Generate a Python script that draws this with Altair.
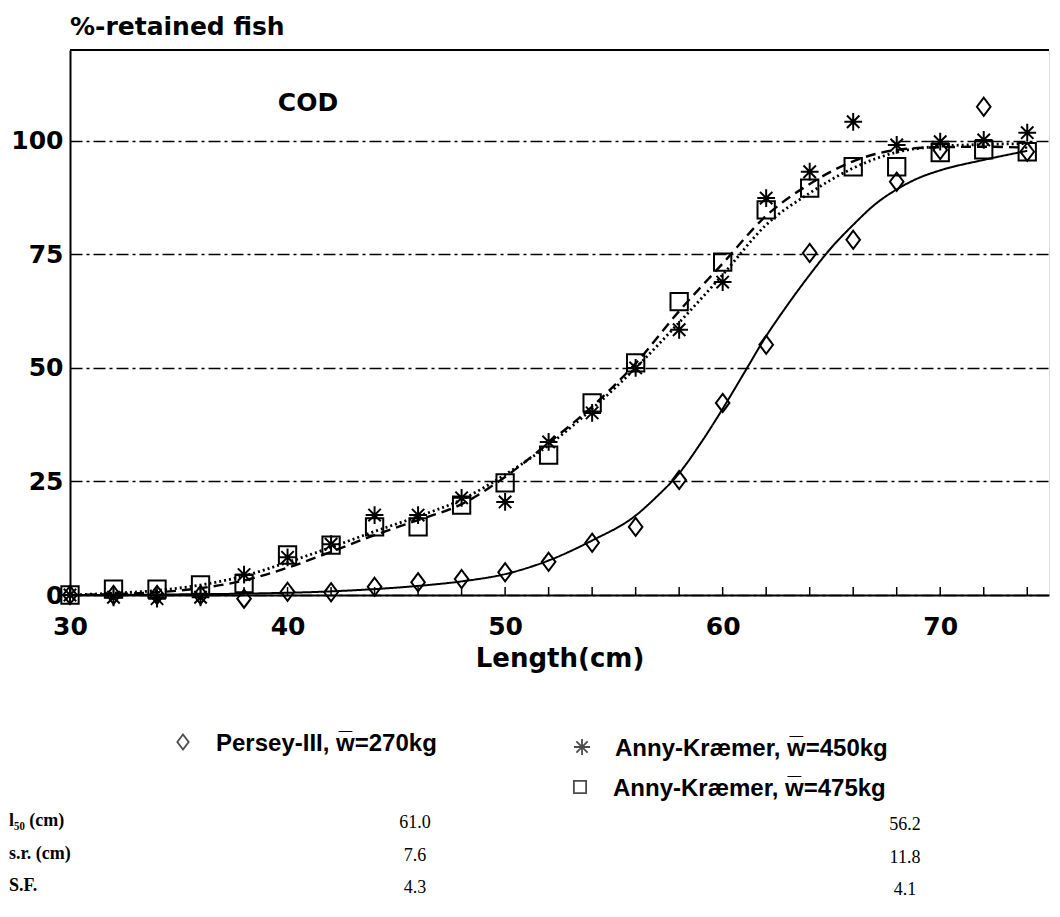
import altair as alt
import pandas as pd

# ---------------- data ----------------
lengths = [30, 32, 34, 36, 38, 40, 42, 44, 46, 48, 50, 52, 54, 56, 58, 60, 62, 64, 66, 68, 70, 72, 74]
persey_pct = [0, 0, 0, 0, -0.8, 0.7, 0.6, 1.8, 2.8, 3.5, 5.0, 7.3, 11.5, 15.0, 25.3, 42.3, 55.1, 75.3, 78.2, 91.0, 98.0, 107.5, 97.6]
anny450_pct = [0, -0.5, -0.8, -0.5, 4.5, 8.3, 11.2, 17.6, 17.6, 21.4, 20.5, 33.7, 40.1, 50.0, 58.4, 68.9, 87.4, 93.2, 104.2, 99.1, 99.8, 100.2, 101.8]
anny475_pct = [0, 1.3, 1.3, 2.2, 2.5, 8.8, 11.0, 15.0, 15.0, 19.8, 24.7, 30.8, 42.3, 51.1, 64.6, 73.3, 84.8, 89.6, 94.3, 94.3, 97.4, 98.0, 97.6]

persey_fit_len = [30, 34, 38, 42, 44, 46, 48, 50, 52, 54, 56, 57, 58, 59, 60, 61, 62, 63, 64, 65, 66, 67, 68, 69, 70, 72, 74]
persey_fit_pct = [0, 0.1, 0.3, 0.8, 1.3, 2.0, 3.0, 4.6, 7.6, 12.0, 17.5, 21.8, 26.8, 33.5, 41.0, 49.0, 57.0, 64.0, 70.5, 76.5, 81.5, 86.0, 89.3, 91.8, 93.5, 95.8, 97.8]
anny_fit_len = [30, 32, 34, 36, 38, 40, 42, 44, 46, 48, 50, 52, 54, 56, 58, 60, 62, 64, 66, 68, 70, 72, 74]
anny_dash_pct = [0, 0.2, 0.6, 1.5, 3.2, 6.0, 9.5, 13.2, 16.5, 20.0, 26.0, 33.5, 41.5, 51.0, 62.5, 73.0, 83.5, 90.5, 95.5, 98.0, 98.6, 98.7, 98.5]
anny_dot_pct = [0, 0.4, 1.0, 2.2, 4.2, 7.2, 10.5, 14.0, 17.3, 21.0, 26.5, 33.0, 41.0, 50.0, 60.0, 70.5, 81.5, 88.5, 94.0, 97.5, 98.8, 99.2, 99.4]

x_tick_values = list(range(30, 75, 2))
x_label_values = [30, 40, 50, 60, 70]
y_label_values = [0, 25, 50, 75, 100]

series_names = ["Persey-III, w\u0305=270kg", "Anny-Kr\u00e6mer, w\u0305=450kg", "Anny-Kr\u00e6mer, w\u0305=475kg"]
curve_names = ["Persey fit", "Anny fit (dashed)", "Anny fit (dotted)"]
stat_rows = ["l\u2085\u2080 (cm)", "s.r. (cm)", "S.F."]
persey_stats = ["61.0", "7.6", "4.3"]
anny_stats = ["56.2", "11.8", "4.1"]
species_label = ["COD"]
y_title = "%-retained fish"

# ---------------- tables ----------------
pts = pd.concat([
    pd.DataFrame({"length": lengths, "pct": persey_pct, "series": series_names[0]}),
    pd.DataFrame({"length": lengths, "pct": anny450_pct, "series": series_names[1]}),
    pd.DataFrame({"length": lengths, "pct": anny475_pct, "series": series_names[2]}),
])
curves = pd.concat([
    pd.DataFrame({"length": persey_fit_len, "pct": persey_fit_pct, "curve": curve_names[0]}),
    pd.DataFrame({"length": anny_fit_len, "pct": anny_dash_pct, "curve": curve_names[1]}),
    pd.DataFrame({"length": anny_fit_len, "pct": anny_dot_pct, "curve": curve_names[2]}),
])

W, H = 979, 545
SANS = "DejaVu Sans"
LEG = "Liberation Sans"
SERIF = "Liberation Serif"

DIAMOND = "M0,-1L0.75,0L0,1L-0.75,0Z"
ASTER = "M0,-1L0,1M-1,0L1,0M-0.7,-0.7L0.7,0.7M-0.7,0.7L0.7,-0.7"
shapes = [DIAMOND, ASTER, "square"]
sizes = [330, 300, 185]

xscale = alt.Scale(domain=[30, 75], nice=False, zero=False)
yscale = alt.Scale(domain=[0, 120], nice=False)

xaxis = alt.Axis(values=x_label_values, grid=False, ticks=False, labelFont=SANS, labelFontWeight="bold",
                 labelFontSize=25, labelColor="black", labelPadding=19, labelFlush=False,
                 domainColor="black", domainWidth=2,
                 title="Length(cm)", titleFont=SANS, titleFontWeight="bold", titleFontSize=26,
                 titleColor="black", titlePadding=6)
yaxis = alt.Axis(values=y_label_values, grid=True, gridColor="black", gridWidth=1.3, gridDash=[12, 4, 3, 4],
                 ticks=False, labelFont=SANS, labelFontWeight="bold", labelFontSize=25, labelColor="black",
                 labelPadding=7, labelFlush=False, domainColor="black", domainWidth=2, title=None)

lines = alt.Chart(curves).mark_line(interpolate="monotone", color="black").encode(
    x=alt.X("length:Q", scale=xscale, axis=xaxis),
    y=alt.Y("pct:Q", scale=yscale, axis=yaxis),
    strokeDash=alt.StrokeDash("curve:N", scale=alt.Scale(domain=curve_names, range=[[1, 0], [10, 6], [2, 3]]), legend=None),
    strokeWidth=alt.StrokeWidth("curve:N", scale=alt.Scale(domain=curve_names, range=[2, 2.8, 1.3]), legend=None),
    detail="curve:N",
)

points = alt.Chart(pts).mark_point(filled=False, color="black", strokeWidth=2, opacity=1).encode(
    x=alt.X("length:Q", scale=xscale),
    y=alt.Y("pct:Q", scale=yscale),
    shape=alt.Shape("series:N", scale=alt.Scale(domain=series_names, range=shapes), legend=None),
    size=alt.Size("series:N", scale=alt.Scale(domain=series_names, range=sizes), legend=None),
)

ticks = alt.Chart(pd.DataFrame({"length": x_tick_values})).mark_rule(color="black", strokeWidth=1.5).encode(
    x=alt.X("length:Q", scale=xscale),
    y=alt.value(H),
    y2=alt.value(H - 8),
)

top_border = alt.Chart(pd.DataFrame({"a": [0]})).mark_rule(color="black", strokeWidth=2).encode(
    x=alt.value(0), x2=alt.value(W), y=alt.value(0)
)

cod = alt.Chart(pd.DataFrame({"length": [40.94], "pct": [108.3], "t": species_label})).mark_text(
    font=SANS, fontWeight="bold", fontSize=25, color="black"
).encode(x=alt.X("length:Q", scale=xscale), y=alt.Y("pct:Q", scale=yscale), text="t:N")

# ---------------- legend below the plot ----------------
layers = [lines, points, ticks, top_border, cod]
leg_pos = [(113, 692), (512, 697), (510, 737)]
for name, shp, sz, (px, py) in zip(series_names, shapes, [230, 260, 150], leg_pos):
    d = pd.DataFrame({"s": [name]})
    layers.append(alt.Chart(d).mark_point(shape=shp, size=sz, filled=False, color="black", strokeWidth=1.8).encode(
        x=alt.value(px), y=alt.value(py)))
    layers.append(alt.Chart(d).mark_text(align="left", baseline="middle", font=LEG, fontWeight="bold",
                                         fontSize=24, color="black").encode(
        x=alt.value(px + 33), y=alt.value(py + 2), text="s:N"))

# ---------------- statistics table ----------------
row_y = [771, 804, 836]
for lab, v1, v2, ry in zip(stat_rows, persey_stats, anny_stats, row_y):
    d = pd.DataFrame({"lab": [lab], "v1": [v1], "v2": [v2]})
    layers.append(alt.Chart(d).mark_text(align="left", baseline="middle", font=SERIF, fontWeight="bold",
                                         fontSize=18, color="black").encode(
        x=alt.value(-61), y=alt.value(ry), text="lab:N"))
    layers.append(alt.Chart(d).mark_text(align="center", baseline="middle", font=SERIF,
                                         fontSize=18, color="black").encode(
        x=alt.value(345), y=alt.value(ry + 2), text="v1:N"))
    layers.append(alt.Chart(d).mark_text(align="center", baseline="middle", font=SERIF,
                                         fontSize=18, color="black").encode(
        x=alt.value(835), y=alt.value(ry + 4), text="v2:N"))

chart = alt.layer(*layers).properties(
    width=W, height=H,
    title=alt.TitleParams(y_title, anchor="start", frame="group", font=SANS, fontWeight="bold",
                          fontSize=25, color="black", offset=9),
    autosize=alt.AutoSizeParams(type="none"),
    padding={"left": 62, "top": 42, "right": 2, "bottom": 310},
).configure_view(stroke=None).configure(background="white")

chart.save("out.html", embed_options={"renderer": "svg", "actions": False})
